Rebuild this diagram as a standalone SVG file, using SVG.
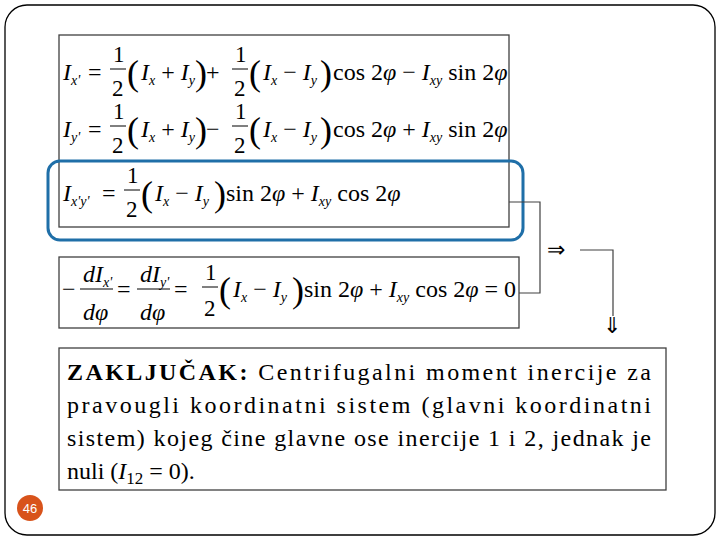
<svg xmlns="http://www.w3.org/2000/svg" width="720" height="540" viewBox="0 0 720 540">
<style>
.i{font-style:italic}
.s{font-size:14px;font-style:italic}
.p{font-size:36px}
.f{font-size:23px}
.bx{fill:#fff;stroke:#404040;stroke-width:1.3}
.ln{fill:none;stroke:#404040;stroke-width:1.2}
</style>
<rect x="5" y="5" width="710" height="530" rx="22" fill="#fff" stroke="#000" stroke-width="1.3"/>
<g id="formulas" font-family="Liberation Serif" font-size="24">
<rect class="bx" x="59" y="35" width="450" height="192"/>
<g id="row1">
<text x="63" y="80" class="i">I<tspan class="s" dy="5">x'</tspan></text>
<text x="88" y="80">=</text>
<text x="113" y="62" class="f">1</text><line x1="110" y1="69" x2="126" y2="69" stroke="#000"/><text x="112" y="96" class="f">2</text>
<text x="127" y="85" class="p">(</text>
<text x="141" y="80"><tspan class="i">I</tspan><tspan class="s" dy="5">x</tspan><tspan dy="-5"> + </tspan><tspan class="i">I</tspan><tspan class="s" dy="5">y</tspan></text>
<text x="195" y="85" class="p">)</text>
<text x="206" y="80">+</text>
<text x="235" y="62" class="f">1</text><line x1="232" y1="69" x2="248" y2="69" stroke="#000"/><text x="234" y="96" class="f">2</text>
<text x="249" y="85" class="p">(</text>
<text x="263" y="80"><tspan class="i">I</tspan><tspan class="s" dy="5">x</tspan><tspan dy="-5"> − </tspan><tspan class="i">I</tspan><tspan class="s" dy="5">y</tspan></text>
<text x="320" y="85" class="p">)</text>
<text x="333" y="80">cos 2<tspan class="i">φ</tspan> − <tspan class="i">I</tspan><tspan class="s" dy="5">xy</tspan><tspan dy="-5"> sin 2</tspan><tspan class="i">φ</tspan></text>
</g>
<g id="row2">
<text x="63" y="137" class="i">I<tspan class="s" dy="5">y'</tspan></text>
<text x="88" y="137">=</text>
<text x="113" y="119" class="f">1</text><line x1="110" y1="126" x2="126" y2="126" stroke="#000"/><text x="112" y="153" class="f">2</text>
<text x="127" y="142" class="p">(</text>
<text x="141" y="137"><tspan class="i">I</tspan><tspan class="s" dy="5">x</tspan><tspan dy="-5"> + </tspan><tspan class="i">I</tspan><tspan class="s" dy="5">y</tspan></text>
<text x="195" y="142" class="p">)</text>
<text x="206" y="137">−</text>
<text x="235" y="119" class="f">1</text><line x1="232" y1="126" x2="248" y2="126" stroke="#000"/><text x="234" y="153" class="f">2</text>
<text x="249" y="142" class="p">(</text>
<text x="263" y="137"><tspan class="i">I</tspan><tspan class="s" dy="5">x</tspan><tspan dy="-5"> − </tspan><tspan class="i">I</tspan><tspan class="s" dy="5">y</tspan></text>
<text x="320" y="142" class="p">)</text>
<text x="333" y="137">cos 2<tspan class="i">φ</tspan> + <tspan class="i">I</tspan><tspan class="s" dy="5">xy</tspan><tspan dy="-5"> sin 2</tspan><tspan class="i">φ</tspan></text>
</g>
<g id="row3">
<text x="63" y="201" class="i">I<tspan class="s" dy="5">x'y'</tspan></text>
<text x="102" y="201">=</text>
<text x="127" y="183" class="f">1</text><line x1="124" y1="190" x2="140" y2="190" stroke="#000"/><text x="126" y="217" class="f">2</text>
<text x="141" y="206" class="p">(</text>
<text x="155" y="201"><tspan class="i">I</tspan><tspan class="s" dy="5">x</tspan><tspan dy="-5"> − </tspan><tspan class="i">I</tspan><tspan class="s" dy="5">y</tspan></text>
<text x="214" y="206" class="p">)</text>
<text x="226" y="201">sin 2<tspan class="i">φ</tspan> + <tspan class="i">I</tspan><tspan class="s" dy="5">xy</tspan><tspan dy="-5"> cos 2</tspan><tspan class="i">φ</tspan></text>
</g>
</g>
<rect id="highlight" x="48" y="161" width="475" height="79" rx="12" fill="none" stroke="#1f6fa8" stroke-width="3"/>
<g id="derivative" font-family="Liberation Serif" font-size="24">
<rect class="bx" x="59" y="257" width="460" height="71"/>
<text x="62" y="297">−</text>
<text x="83" y="282" class="i">dI<tspan class="s" dy="5">x'</tspan></text><line x1="80" y1="289" x2="113" y2="289" stroke="#000"/><text x="83" y="320" class="i">dφ</text>
<text x="117" y="297">=</text>
<text x="140" y="282" class="i">dI<tspan class="s" dy="5">y'</tspan></text><line x1="137" y1="289" x2="170" y2="289" stroke="#000"/><text x="140" y="320" class="i">dφ</text>
<text x="174" y="297">=</text>
<text x="205" y="280" class="f">1</text><line x1="202" y1="287" x2="218" y2="287" stroke="#000"/><text x="204" y="316" class="f">2</text>
<text x="219" y="302" class="p">(</text>
<text x="233" y="297"><tspan class="i">I</tspan><tspan class="s" dy="5">x</tspan><tspan dy="-5"> − </tspan><tspan class="i">I</tspan><tspan class="s" dy="5">y</tspan></text>
<text x="292" y="302" class="p">)</text>
<text x="304" y="297">sin 2<tspan class="i">φ</tspan> + <tspan class="i">I</tspan><tspan class="s" dy="5">xy</tspan><tspan dy="-5"> cos 2</tspan><tspan class="i">φ</tspan> = 0</text>
</g>
<g id="connectors" font-family="Liberation Serif">
<polyline class="ln" points="509,202 540,202 540,293 519,293"/>
<polyline class="ln" points="580,250 613,250 613,316"/>
<text x="547" y="257" font-size="22">⇒</text>
<text x="603" y="333" font-size="22">⇓</text>
</g>
<g id="conclusion" font-family="Liberation Serif" font-size="24">
<rect class="bx" x="59" y="348" width="607" height="142"/>
<text x="67" y="380" textLength="584" lengthAdjust="spacing"><tspan font-weight="bold">ZAKLJUČAK:</tspan> Centrifugalni moment inercije za</text>
<text x="67" y="413" textLength="584" lengthAdjust="spacing">pravougli koordinatni sistem (glavni koordinatni</text>
<text x="67" y="446" textLength="584" lengthAdjust="spacing">sistem) kojeg čine glavne ose inercije 1 i 2, jednak je</text>
<text x="67" y="479">nuli (<tspan font-style="italic">I</tspan><tspan font-size="17" dy="5">12</tspan><tspan dy="-5"> = 0).</tspan></text>
</g>
<g id="page">
<circle cx="30" cy="508" r="13" fill="#d8531b"/>
<text x="30" y="513" text-anchor="middle" font-family="Liberation Sans" font-size="13" fill="#fff">46</text>
</g>
</svg>
